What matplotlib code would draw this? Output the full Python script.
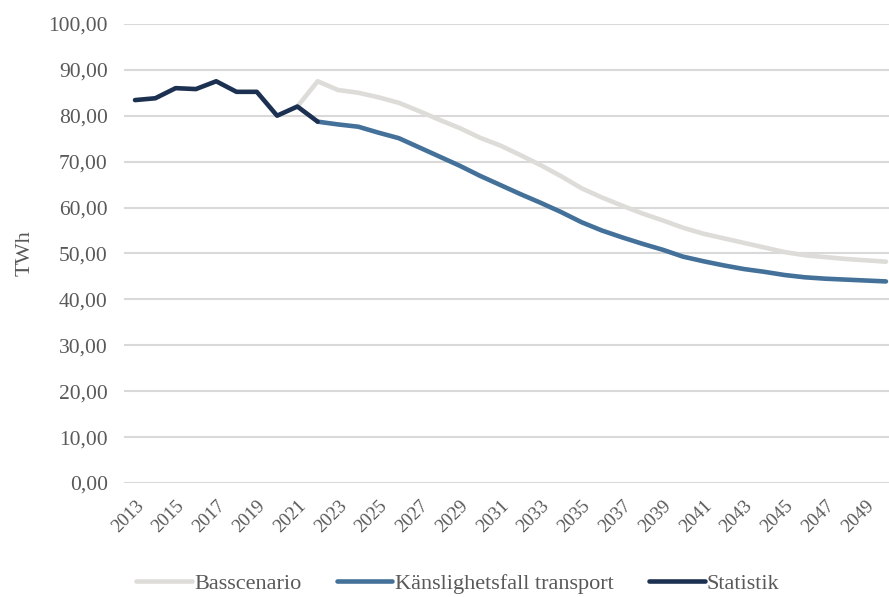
import matplotlib
matplotlib.use("Agg")
import matplotlib.pyplot as plt
from matplotlib.ticker import FuncFormatter

# data (TWh)
stat_years = list(range(2013, 2023))
statistik = [83.4, 83.8, 86.0, 85.8, 87.5, 85.2, 85.2, 80.0, 82.0, 78.7]

bas_years = list(range(2021, 2051))
basscenario = [82.0, 87.5, 85.6, 85.0, 84.0, 82.8, 81.0, 79.1, 77.3, 75.2,
               73.5, 71.4, 69.2, 66.8, 64.2, 62.2, 60.4, 58.7, 57.2, 55.6,
               54.3, 53.3, 52.3, 51.3, 50.3, 49.6, 49.2, 48.8, 48.5, 48.2]

trans_years = list(range(2022, 2051))
transport = [78.7, 78.1, 77.6, 76.3, 75.1, 73.1, 71.1, 69.1, 66.9, 64.9,
             62.9, 61.0, 59.0, 56.8, 55.0, 53.5, 52.1, 50.8, 49.3, 48.3,
             47.4, 46.6, 46.0, 45.3, 44.8, 44.5, 44.3, 44.1, 43.9]

tick_years = list(range(2013, 2050, 2))
labels = ["Basscenario", "Känslighetsfall transport", "Statistik"]
colors = ["#DDDCD8", "#44719A", "#1C3152"]

plt.rcParams["font.family"] = ["Liberation Serif", "DejaVu Serif"]
text_color = "#595959"

fig = plt.figure(figsize=(8.89, 5.97), dpi=100)
ax = fig.add_axes([0.14, 0.191, 0.86, 0.769])

ax.plot(bas_years, basscenario, color=colors[0], lw=3.3, label=labels[0],
        solid_capstyle="round")
ax.plot(trans_years, transport, color=colors[1], lw=3.3, label=labels[1],
        solid_capstyle="round")
ax.plot(stat_years, statistik, color=colors[2], lw=3.3, label=labels[2],
        solid_capstyle="round")

ax.set_ylim(0, 100)
ax.set_xlim(2012.48, 2050.15)
ax.set_yticks(range(0, 101, 10))
ax.yaxis.set_major_formatter(FuncFormatter(lambda v, p: f"{v:.2f}".replace(".", ",")))
ax.set_xticks(tick_years)
ax.set_xticklabels([str(y) for y in tick_years], rotation=45, ha="right",
                   rotation_mode="anchor")
ax.tick_params(axis="y", length=0, labelsize=15.5, colors=text_color, pad=12)
ax.tick_params(axis="x", length=0, labelsize=13.5, colors=text_color, pad=10)

ax.grid(axis="y", color="#D9D9D9", lw=1.5)
ax.set_axisbelow(True)
for s in ax.spines.values():
    s.set_visible(False)

ax.set_ylabel("TWh", fontsize=16, color=text_color, labelpad=10)

fig.legend(loc="center", bbox_to_anchor=(0.515, 0.023), ncol=3, frameon=False,
           fontsize=16, handlelength=2.5, handletextpad=0.1, columnspacing=1.6,
           labelcolor=text_color)

fig.savefig("out.png", dpi=100)
